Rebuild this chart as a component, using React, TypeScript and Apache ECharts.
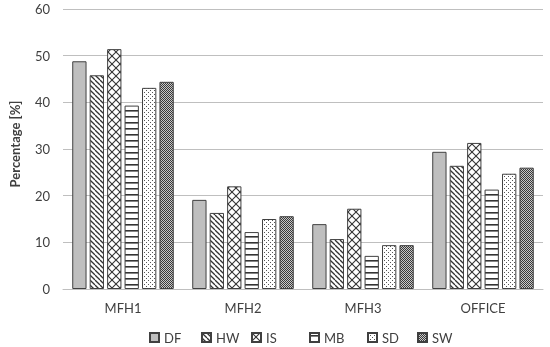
import React, { useEffect, useRef } from "react";
import * as echarts from "echarts";

const categories = ["MFH1", "MFH2", "MFH3", "OFFICE"];
const seriesNames = ["DF", "HW", "IS", "MB", "SD", "SW"];
const DF = [48.8, 19.1, 13.9, 29.4];
const HW = [45.8, 16.3, 10.7, 26.4];
const IS = [51.4, 22.0, 17.2, 31.3];
const MB = [39.3, 12.2, 7.1, 21.3];
const SD = [43.1, 15.0, 9.4, 24.7];
const SW = [44.4, 15.6, 9.4, 26.0];
const seriesValues = [DF, HW, IS, MB, SD, SW];
const yTicks = [0, 10, 20, 30, 40, 50, 60];

const legendLeft = [149, 201, 251, 309, 367, 417];
const INK = "#333333";

function makeTile(w: number, h: number, draw: (c: CanvasRenderingContext2D) => void) {
  const cv = document.createElement("canvas");
  cv.width = w;
  cv.height = h;
  const ctx = cv.getContext("2d")!;
  ctx.fillStyle = "#ffffff";
  ctx.fillRect(0, 0, w, h);
  draw(ctx);
  return { image: cv.toDataURL(), repeat: "repeat" } as any;
}

function buildFills(): any[] {
  const hw = makeTile(5, 5, (c) => {
    c.strokeStyle = INK;
    c.lineWidth = 1.3;
    for (const x0 of [-5, 0, 5]) {
      c.beginPath();
      c.moveTo(x0, 0);
      c.lineTo(x0 + 5, 5);
      c.stroke();
    }
  });
  const is = makeTile(8, 8, (c) => {
    c.strokeStyle = INK;
    c.lineWidth = 1.1;
    for (const x0 of [-8, 0, 8]) {
      c.beginPath();
      c.moveTo(x0, 0);
      c.lineTo(x0 + 8, 8);
      c.stroke();
      c.beginPath();
      c.moveTo(x0 + 8, 0);
      c.lineTo(x0, 8);
      c.stroke();
    }
  });
  const mb = makeTile(6, 6, (c) => {
    c.fillStyle = INK;
    c.fillRect(0, 2, 6, 1.6);
  });
  const sd = makeTile(4, 4, (c) => {
    c.fillStyle = "#555555";
    c.fillRect(0, 0, 1, 1);
    c.fillRect(2, 2, 1, 1);
  });
  const sw = makeTile(2, 2, (c) => {
    c.fillStyle = "#3a3a3a";
    c.fillRect(0, 0, 1, 1);
    c.fillRect(1, 1, 1, 1);
    c.fillStyle = "#c8c8c8";
    c.fillRect(1, 0, 1, 1);
    c.fillRect(0, 1, 1, 1);
  });
  return ["#bfbfbf", hw, is, mb, sd, sw];
}

export default function App() {
  const ref = useRef<HTMLDivElement>(null);
  useEffect(() => {
    if (!ref.current) return;
    const chart = echarts.init(ref.current, null, { renderer: "svg" });
    const fills = buildFills();
    const font = "Lato, 'Open Sans', sans-serif";
    chart.setOption({
      animation: false,
      textStyle: { fontFamily: font },
      grid: { left: 55, right: 7, top: 9, bottom: 58 },
      legend: seriesNames.map((name, i) => ({
        data: [name],
        bottom: 3,
        left: legendLeft[i],
        padding: 0,
        itemWidth: 9,
        itemHeight: 9,
        itemGap: 5,
        icon: "rect",
        textStyle: { fontSize: 13, color: "#404040", fontFamily: font, padding: [0, 0, 0, 0] },
      })),
      xAxis: {
        type: "category",
        data: categories,
        axisLine: { lineStyle: { color: "#bfbfbf", width: 1 } },
        axisTick: { show: false },
        axisLabel: { fontSize: 13, color: "#404040", margin: 12, fontFamily: font },
      },
      yAxis: {
        type: "value",
        min: 0,
        max: 60,
        interval: 10,
        name: "Percentage [%]",
        nameLocation: "middle",
        nameGap: 42,
        nameTextStyle: { fontSize: 13, fontWeight: "bold", color: "#404040", fontFamily: font, padding: [0, 0, 0, 10] },
        axisLine: { show: false },
        axisTick: { show: false },
        axisLabel: { fontSize: 13, color: "#404040", margin: 13, fontFamily: font,
          formatter: (v: number) => (yTicks.includes(v) ? String(v) : "") },
        splitLine: { lineStyle: { color: "#bfbfbf", width: 1 } },
      },
      series: seriesNames.map((name, i) => ({
        name,
        type: "bar",
        data: seriesValues[i],
        barWidth: 14.3,
        barGap: "22%",
        itemStyle: { color: fills[i], borderColor: "#404040", borderWidth: 1 },
      })),
    });
    return () => chart.dispose();
  }, []);
  return <div ref={ref} style={{ position: "fixed", left: 0, top: 0, width: 550, height: 347 }} />;
}
